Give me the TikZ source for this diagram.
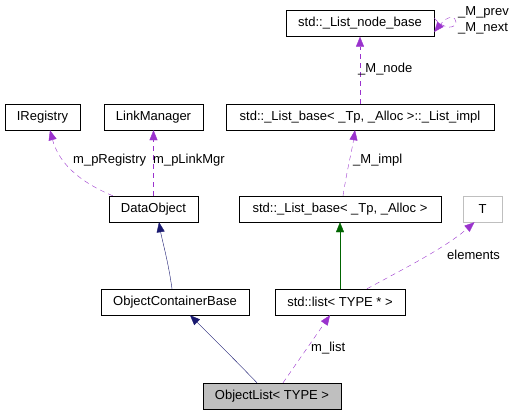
\documentclass[tikz,border=0pt]{standalone}
\usepackage{fontspec}
\setmainfont{Liberation Sans}
\usetikzlibrary{arrows.meta}
\definecolor{usecol}{HTML}{9A32CD}
\definecolor{inhcol}{HTML}{191970}
\definecolor{tplcol}{HTML}{006400}
\definecolor{grey}{HTML}{BFBFBF}
\tikzset{
  cls/.style ={rectangle, draw=black, fill=white, minimum height=26pt, inner sep=2pt, font=\fontsize{13}{15}\selectfont},
  cur/.style ={cls, fill=grey},
  ext/.style ={cls, draw=grey},
  dep/.style ={-{Triangle[length=10pt,width=8pt]}, draw=usecol, dash pattern=on 5pt off 4pt},
  inh/.style ={-{Triangle[length=10pt,width=8pt]}, draw=inhcol},
  tpl/.style ={-{Triangle[length=10pt,width=8pt]}, draw=tplcol},
  el/.style  ={font=\fontsize{13}{15}\selectfont, inner sep=0pt, anchor=west},
}
\begin{document}
\begin{tikzpicture}[x=1pt, y=-1pt]
\useasboundingbox (0,0) rectangle (516,416);
%% ---------- classes ----------
\node[cls, minimum width=148pt] (nb)    at (360,23.5) {std::\_List\_node\_base};
\node[cls, minimum width=75pt]  (ireg)  at (42.5,117) {IRegistry};
\node[cls, minimum width=99pt]  (lmgr)  at (153.5,117) {LinkManager};
\node[cls, minimum width=268pt] (impl)  at (360,117) {std::\_List\_base< \_Tp, \_Alloc >::\_List\_impl};
\node[cls, minimum width=89pt]  (dobj)  at (153.5,209) {DataObject};
\node[cls, minimum width=202pt] (lbase) at (340,209) {std::\_List\_base< \_Tp, \_Alloc >};
\node[ext, minimum width=39pt]  (tcls)  at (482.5,209) {T};
\node[cls, minimum width=148pt] (ocb)   at (175,302) {ObjectContainerBase};
\node[cls, minimum width=130pt] (slist) at (340,302) {std::list< TYPE * >};
\node[cur, minimum width=138pt] (olist) at (272,396) {ObjectList< TYPE >};
%% ---------- inheritance ----------
\draw[inh] ([xshift=-3pt]ocb.north) .. controls (168,260) and (162,240) .. ([xshift=5.5pt]dobj.south);
\draw[inh] ([xshift=-15pt]olist.north) .. controls (235,360) and (210,335) .. ([xshift=15pt]ocb.south);
\draw[tpl] (slist.north) -- (lbase.south);
%% ---------- members ----------
\draw[dep] ([xshift=4pt]dobj.north west) .. controls (75,180) and (58,160) .. ([xshift=7.5pt]ireg.south);
\draw[dep] (dobj.north) -- (lmgr.south);
\draw[dep] ([xshift=11pt]olist.north) -- ([xshift=-10pt]slist.south);
\draw[dep] ([xshift=27pt]slist.north) .. controls (405,268) and (445,248) .. ([xshift=-8pt]tcls.south);
\draw[dep] ([xshift=3pt]lbase.north) .. controls (347,170) and (352,150) .. ([xshift=-5pt]impl.south);
\draw[dep] (impl.north) -- (nb.south);
\draw[dep] ([yshift=5.5pt]nb.east) .. controls (445,31) and (456,28) .. (456,22)
  .. controls (456,16) and (448,15) .. ([yshift=-8.5pt]nb.east);
% edge labels
\node[el] (lreg)  at (73,160)  {m\_pRegistry};
\node[el] (llmg)  at (153,160) {m\_pLinkMgr};
\node[el] (limp)  at (353,160) {\_M\_impl};
\node[el] (lnod)  at (358,69)  {\_M\_node};
\node[el] (lele)  at (447,255) {elements};
\node[el] (llst)  at (311,348) {m\_list};
\node[el] (lprv)  at (458,12)  {\_M\_prev};
\node[el] (lnxt)  at (458,28)  {\_M\_next};
\end{tikzpicture}
\end{document}
